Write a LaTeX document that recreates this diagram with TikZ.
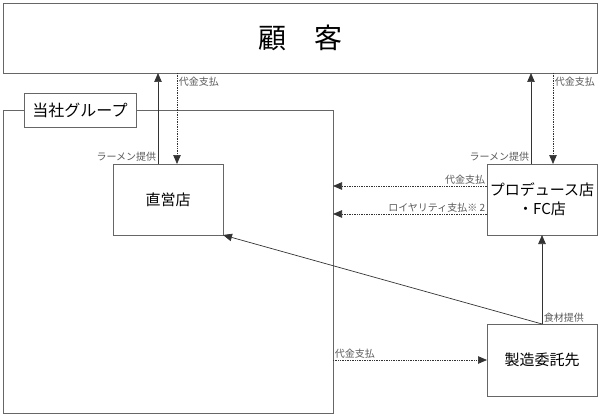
\documentclass[tikz,border=0pt]{standalone}
\usepackage{fontspec}
\setmainfont{Noto Sans CJK JP}
\usetikzlibrary{arrows.meta}

\begin{document}
\begin{tikzpicture}[
	x=1pt, y=1pt,
	box/.style={
		draw=black!60, line width=0.8pt, inner sep=0pt, outer sep=0pt,
		font=\fontsize{15}{19}\selectfont
	},
	flow/.style={
		->, draw=black!80, line width=0.7pt
	},
	pay/.style={flow, densely dotted},
	note/.style={
		font=\fontsize{10}{12}\selectfont, text=black!65, inner sep=1.5pt
	}, >={Triangle[length=9pt, width=7.5pt]}
]
\useasboundingbox (0,0) rectangle (600,416);

\node[box, minimum width=594, minimum height=70,
	font=\fontsize{28}{32}\selectfont] (kokyaku) at (300,378) {顧　客};
\node[box, minimum width=330, minimum height=303] (group) at (168,154.5) {};
\node[box, fill=white, minimum width=112, minimum height=34,
	font=\fontsize{16}{18}\selectfont] (grouplabel) at (80,306) {当社グループ};
\node[box, minimum width=110, minimum height=71] (chokuei) at (168,216.5) {直営店};
\node[box, minimum width=110, minimum height=71, align=center]
	(produce) at (542,216.5) {プロデュース店\\・FC店};
\node[box, minimum width=110, minimum height=72] (seizou) at (542,56) {製造委託先};

% 顧客とのやりとり
\draw[flow] ([xshift=-10pt]chokuei.north) -- ([xshift=-10pt]chokuei.north |- kokyaku.south)
	node[note, pos=0.08, anchor=east] {ラーメン提供};
\draw[pay] ([xshift=9pt]chokuei.north |- kokyaku.south) -- ([xshift=9pt]chokuei.north)
	node[note, pos=0.1, anchor=west] {代金支払};
\draw[flow] ([xshift=-11pt]produce.north) -- ([xshift=-11pt]produce.north |- kokyaku.south)
	node[note, pos=0.08, anchor=east] {ラーメン提供};
\draw[pay] ([xshift=11pt]produce.north |- kokyaku.south) -- ([xshift=11pt]produce.north)
	node[note, pos=0.1, anchor=west] {代金支払};

% グループとのやりとり
\draw[pay] ([yshift=13.5pt]produce.west) -- ([yshift=13.5pt]produce.west -| group.east)
	node[note, pos=0, anchor=south east] {代金支払};
\draw[pay] ([yshift=-14.5pt]produce.west) -- ([yshift=-14.5pt]produce.west -| group.east)
	node[note, pos=0, anchor=south east] {ロイヤリティ支払※ 2};
\draw[flow] (seizou.north) -- (produce.south)
	node[note, pos=0.07, anchor=west] {食材提供};
\draw[flow] (seizou.north) -- (chokuei.south east);
\draw[pay] (seizou.west -| group.east) -- (seizou.west)
	node[note, pos=0, anchor=south west] {代金支払};
\end{tikzpicture}
\end{document}
